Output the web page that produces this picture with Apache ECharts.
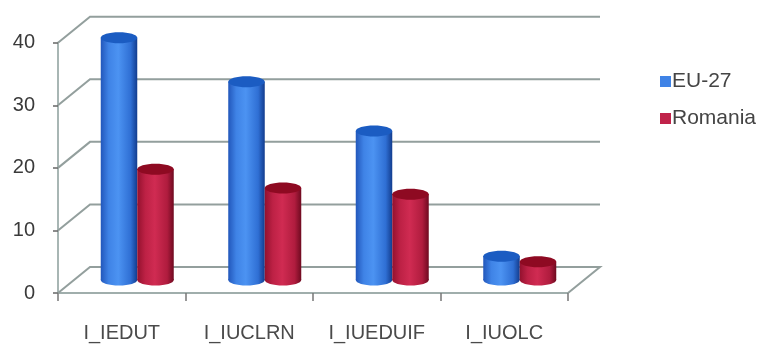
<!DOCTYPE html>
<html>
<head>
<meta charset="utf-8">
<style>html,body{margin:0;padding:0;background:#fff}#c{width:760px;height:345px}</style>
<script src="https://cdn.jsdelivr.net/npm/echarts@6/dist/echarts.min.js"></script>
</head>
<body>
<div id="c"></div>
<script>
// Internet use indicators, EU-27 against Romania
const categories = ['I_IEDUT', 'I_IUCLRN', 'I_IUEDUIF', 'I_IUOLC'];
const eu27 = [38.7, 31.7, 23.8, 3.8];
const romania = [17.7, 14.7, 13.7, 2.9];
const yTicks = [0, 10, 20, 30, 40];

// Oblique projection of the chart box: how far the back wall sits from the front plane
const DEPTH_X = 32, DEPTH_Y = 26;
const BAR_WIDTH = 36.5, CAP_RY = 5.5;

const blueBody = ['#2257bb', '#3f83e6', '#4c93f2', '#2f6fd4', '#123c8e'];
const redBody = ['#93112e', '#bd2145', '#d02b52', '#b01c3e', '#6f0a20'];

function bodyGradient(c) {
  return new echarts.graphic.LinearGradient(0, 0, 1, 0, [
    { offset: 0, color: c[0] }, { offset: 0.22, color: c[1] }, { offset: 0.48, color: c[2] },
    { offset: 0.82, color: c[3] }, { offset: 1, color: c[4] }
  ]);
}

// A cylinder standing midway along the floor depth; slot -1 sits left of the slot centre, 0 right of it
function cylinder(slot, colors, capColor) {
  return function (params, api) {
    const top = api.coord([api.value(0), api.value(1)]);
    const base = api.coord([api.value(0), 0]);
    const cx = top[0] + DEPTH_X / 2 + (slot + 0.5) * BAR_WIDTH - 0.5;
    const lift = DEPTH_Y / 2;
    const left = cx - BAR_WIDTH / 2;
    const fill = bodyGradient(colors);
    return {
      type: 'group',
      children: [
        { type: 'ellipse', shape: { cx: cx, cy: base[1] - lift, rx: BAR_WIDTH / 2, ry: CAP_RY }, style: { fill: fill } },
        { type: 'rect', shape: { x: left, y: top[1] - lift, width: BAR_WIDTH, height: base[1] - top[1] }, style: { fill: fill } },
        { type: 'ellipse', shape: { cx: cx, cy: top[1] - lift, rx: BAR_WIDTH / 2, ry: CAP_RY }, style: { fill: capColor } }
      ]
    };
  };
}

// Gridline running from the front axis back along the side wall, then across the back wall
function wallLine(params, api) {
  const y = api.coord([0, api.value(1)])[1];
  const g = params.coordSys;
  const stroke = { stroke: '#939f9d', lineWidth: 2, fill: null };
  const points = [[g.x, y], [g.x + DEPTH_X, y - DEPTH_Y], [g.x + g.width + DEPTH_X, y - DEPTH_Y]];
  if (api.value(1) === 0) points.push([g.x + g.width, y]);
  return { type: 'polyline', shape: { points: points }, style: stroke };
}

const chart = echarts.init(document.getElementById('c'), null, { renderer: 'canvas' });
chart.setOption({
  animation: false,
  backgroundColor: '#fff',
  grid: { left: 58, right: 192, top: 42.7, bottom: 52, containLabel: false },
  legend: {
    left: 655, top: 66, orient: 'vertical', itemGap: 16,
    itemWidth: 11, itemHeight: 11, icon: 'rect',
    data: ['EU-27', 'Romania'],
    textStyle: { fontFamily: '"Liberation Sans"', fontSize: 21, color: '#444', padding: [0, 0, 0, -4] }
  },
  xAxis: {
    type: 'category', data: categories, boundaryGap: true,
    axisLine: { lineStyle: { color: '#a0aeac', width: 2 } },
    axisTick: { show: true, alignWithLabel: false, length: 8, lineStyle: { color: '#777', width: 1.5 } },
    axisLabel: { fontFamily: '"Liberation Sans"', fontSize: 20, color: '#4a4a4a', margin: 30 },
    splitLine: { show: false }
  },
  yAxis: {
    type: 'value', min: 0, max: 40, interval: 10,
    axisLine: { show: true, lineStyle: { color: '#a8b6b4', width: 2 } },
    axisTick: { show: true, length: 5, lineStyle: { color: '#666', width: 1.5 } },
    axisLabel: { fontFamily: '"Liberation Sans"', fontSize: 20, color: '#3a3a3a', margin: 23 },
    splitLine: { show: false }
  },
  series: [
    { type: 'custom', name: 'wall', silent: true, z: 1, renderItem: wallLine, data: yTicks.map(v => [0, v]) },
    { type: 'custom', name: 'EU-27', z: 3, renderItem: cylinder(-1, blueBody, '#1b5cc2'), itemStyle: { color: '#3f83e6' },
      data: categories.map((c, i) => [i, eu27[i]]) },
    { type: 'custom', name: 'Romania', z: 4, renderItem: cylinder(0, redBody, '#8e0a22'), itemStyle: { color: '#c0234a' },
      data: categories.map((c, i) => [i, romania[i]]) }
  ]
});
</script>
</body>
</html>
